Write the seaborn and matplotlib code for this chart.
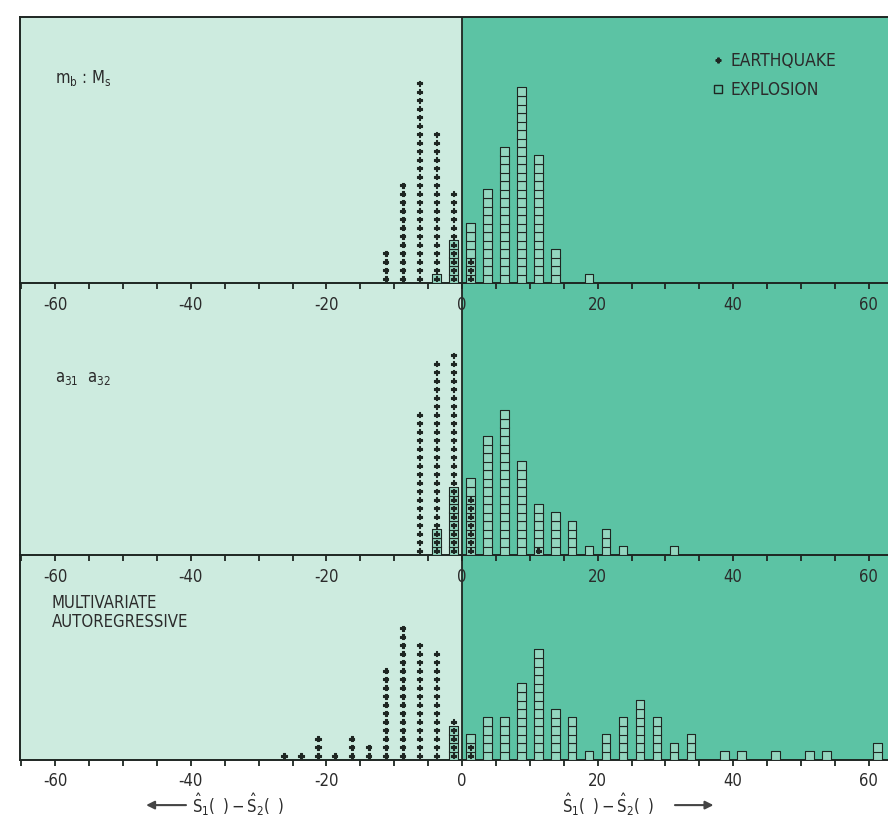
import numpy as np
import pandas as pd
import matplotlib
matplotlib.use("Agg")
import matplotlib.pyplot as plt
import seaborn as sns
from matplotlib.lines import Line2D
from matplotlib.ticker import MultipleLocator

# bin centres (bins are 2.5 wide) and counts
eq1_x = [-11.25, -8.75, -6.25, -3.75, -1.25, 1.25]
eq1_n = [4, 12, 24, 18, 11, 3]
ex1_x = [-3.75, -1.25, 1.25, 3.75, 6.25, 8.75, 11.25, 13.75, 18.75]
ex1_n = [1, 5, 7, 11, 16, 23, 15, 4, 1]

eq2_x = [-6.25, -3.75, -1.25, 1.25, 11.25]
eq2_n = [17, 23, 24, 7, 1]
ex2_x = [-3.75, -1.25, 1.25, 3.75, 6.25, 8.75, 11.25, 13.75, 16.25, 18.75, 21.25, 23.75, 31.25]
ex2_n = [3, 8, 9, 14, 17, 11, 6, 5, 4, 1, 3, 1, 1]

eq3_x = [-26.25, -23.75, -21.25, -18.75, -16.25, -13.75, -11.25, -8.75, -6.25, -3.75, -1.25, 1.25]
eq3_n = [1, 1, 3, 1, 3, 2, 11, 16, 14, 13, 5, 2]
ex3_x = [-1.25, 1.25, 3.75, 6.25, 8.75, 11.25, 13.75, 16.25, 18.75, 21.25, 23.75, 26.25,
         28.75, 31.25, 33.75, 38.75, 41.25, 46.25, 51.25, 53.75, 61.25]
ex3_n = [4, 3, 5, 5, 9, 13, 6, 5, 1, 3, 5, 7, 5, 2, 3, 1, 1, 1, 1, 1, 2]

panel_titles = ["m$_\\mathregular{b}$ : M$_\\mathregular{s}$",
                "a$_\\mathregular{31}$  a$_\\mathregular{32}$",
                "MULTIVARIATE\nAUTOREGRESSIVE"]
tick_labels = ["-60", "-40", "-20", "0", "20", "40", "60"]

PALE = "#cdebdf"
TEAL = "#5cc3a4"
SQFACE = "#93d6bf"
DARK = "#1e2622"
TXT = "#2b2b2b"


# one row per stacked marker
def expand(xs, ns, label):
    rows = []
    for x, n in zip(xs, ns):
        for i in range(n):
            rows.append((x, i + 0.5, label))
    return rows


sns.set_theme(style="white")
plt.rcParams["font.family"] = ["DejaVu Sans"]
plt.rcParams["font.stretch"] = "condensed"
plt.rcParams["axes.unicode_minus"] = False

W, H = 888, 827
x0_px, px_per_unit = 462, 6.78
xmin = (20 - x0_px) / px_per_unit
xmax = (W - x0_px) / px_per_unit
row_px = 8.5

fig = plt.figure(figsize=(W / 100, H / 100), dpi=100)
fig.patch.set_facecolor("white")

spans = [(17, 283), (283, 555), (555, 760)]
data = [(eq1_x, eq1_n, ex1_x, ex1_n), (eq2_x, eq2_n, ex2_x, ex2_n), (eq3_x, eq3_n, ex3_x, ex3_n)]
axes = []
for k, ((top, bot), (eqx, eqn, exx, exn)) in enumerate(zip(spans, data)):
    ax = fig.add_axes([20 / W, 1 - bot / H, 1 - 20 / W, (bot - top) / H])
    ax.set_zorder(10 - k)
    ax.set_facecolor(PALE)
    ax.axvspan(0, xmax, color=TEAL, lw=0, zorder=0)

    df = pd.DataFrame(expand(exx, exn, "EXPLOSION") + expand(eqx, eqn, "EARTHQUAKE"),
                      columns=["x", "y", "type"])
    sns.scatterplot(data=df, x="x", y="y", hue="type", style="type",
                    markers={"EXPLOSION": "s", "EARTHQUAKE": "P"},
                    palette={"EXPLOSION": SQFACE, "EARTHQUAKE": DARK},
                    size="type", sizes={"EXPLOSION": 38, "EARTHQUAKE": 14},
                    edgecolor=DARK, linewidth=0.8, legend=False, ax=ax, zorder=3)

    ax.axvline(0, color=DARK, lw=1.3, zorder=2)
    ax.set_xlim(xmin, xmax)
    ax.set_ylim(0, (bot - top) / row_px)
    ax.set_yticks([])
    ax.set_xlabel("")
    ax.set_ylabel("")
    ax.xaxis.set_major_locator(MultipleLocator(20))
    ax.xaxis.set_minor_locator(MultipleLocator(5))
    ax.set_xticks(range(-60, 61, 20))
    ax.set_xticklabels(tick_labels)
    ax.tick_params(which="both", axis="x", direction="out", length=4, width=1.3,
                   color=DARK, labelsize=12, labelcolor=TXT, pad=5, bottom=True)
    for side in ["left", "bottom", "top"]:
        ax.spines[side].set_color(DARK)
        ax.spines[side].set_linewidth(1.4)
    ax.spines["right"].set_visible(False)
    if k > 0:
        ax.spines["top"].set_visible(False)
    axes.append(ax)

ax1, ax2, ax3 = axes
ax1.text(-60, 0.77, panel_titles[0], transform=ax1.get_xaxis_transform(),
         fontsize=12, color=TXT, ha="left", va="center")
ax2.text(-60, 0.65, panel_titles[1], transform=ax2.get_xaxis_transform(),
         fontsize=12, color=TXT, ha="left", va="center")
ax3.text(-60.5, 0.72, panel_titles[2], transform=ax3.get_xaxis_transform(),
         fontsize=12, color=TXT, ha="left", va="center", linespacing=1.1)

handles = [Line2D([], [], marker="P", ls="", color=DARK, markersize=3.5),
           Line2D([], [], marker="s", ls="", markerfacecolor=TEAL, markeredgecolor=DARK,
                  markersize=6, markeredgewidth=1.0)]
ax1.legend(handles, ["EARTHQUAKE", "EXPLOSION"], loc="upper left",
           bbox_to_anchor=(702 / W, 1 - 43 / H), bbox_transform=fig.transFigure,
           frameon=False, fontsize=12.5, handlelength=0.8, handletextpad=0.35,
           labelspacing=0.65, borderpad=0, labelcolor=TXT)

diff_label = r"$\hat{\mathrm{S}}_1(\;\;) - \hat{\mathrm{S}}_2(\;\;)$"
ytxt = -0.22
ax3.annotate("", xy=(-47, ytxt), xytext=(-40.3, ytxt), xycoords=("data", "axes fraction"),
             arrowprops=dict(arrowstyle="-|>", color="#444444", lw=1.5, mutation_scale=12),
             annotation_clip=False)
ax3.text(-39.8, ytxt, diff_label, transform=ax3.get_xaxis_transform(),
         fontsize=12, color=TXT, ha="left", va="center")
ax3.text(14.7, ytxt, diff_label, transform=ax3.get_xaxis_transform(),
         fontsize=12, color=TXT, ha="left", va="center")
ax3.annotate("", xy=(37.5, ytxt), xytext=(31, ytxt), xycoords=("data", "axes fraction"),
             arrowprops=dict(arrowstyle="-|>", color="#444444", lw=1.5, mutation_scale=12),
             annotation_clip=False)

fig.savefig("out.png", dpi=100, facecolor="white")
